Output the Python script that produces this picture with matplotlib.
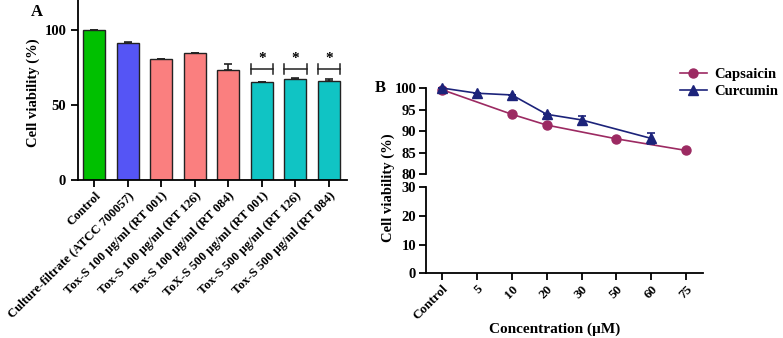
import matplotlib.pyplot as plt
import numpy as np

plt.rcParams['font.family'] = ['Liberation Serif', 'DejaVu Serif']
plt.rcParams['font.weight'] = 'bold'

### panel A data ###
groups_a = ['Control', 'Culture-filtrate (ATCC 700057)',
            'Tox-S 100 µg/ml (RT 001)', 'Tox-S 100 µg/ml (RT 126)',
            'Tox-S 100 µg/ml (RT 084)', 'ToX-S 500 µg/ml (RT 001)',
            'Tox-S 500 µg/ml (RT 126)', 'Tox-S 500 µg/ml (RT 084)']
viability_a = [100.0, 91.1, 80.4, 84.4, 73.5, 65.2, 67.4, 65.9]
err_a = [0.0, 0.6, 0.3, 0.5, 4.0, 0.4, 0.6, 1.3]
colors_a = ['#00c000', '#5555f5', '#fa7f7f', '#fa7f7f', '#fa7f7f',
            '#10c4c4', '#10c4c4', '#10c4c4']
sig_bars = [5, 6, 7]
sig_level = 73.7

### panel B data ###
conc_labels = ['Control', '5', '10', '20', '30', '50', '60', '75']
caps_idx = [0, 2, 3, 5, 7]
caps_vals = [99.6, 93.9, 91.4, 88.2, 85.5]
curc_idx = [0, 1, 2, 3, 4, 6]
curc_vals = [100.0, 98.8, 98.4, 93.9, 92.6, 88.3]
curc_err = [0.0, 0.0, 0.0, 0.0, 1.0, 1.2]

cap_col = '#9c2a62'
cur_col = '#1c237a'

fig = plt.figure(figsize=(7.83, 3.38), dpi=100)

# ---- A ----
axA = fig.add_axes([0.0996, 0.4675, 0.3436, 0.5325])
x = np.arange(len(groups_a))
axA.bar(x, viability_a, width=0.66, color=colors_a, edgecolor='#222222', linewidth=1.0, zorder=2)
axA.errorbar(x, viability_a, yerr=[np.zeros(len(err_a)), err_a], fmt='none',
             ecolor='#222222', elinewidth=1.2, capsize=3, capthick=1.2, zorder=3)
for i in sig_bars:
    axA.plot([i - 0.34, i + 0.34], [sig_level, sig_level], color='#222222', lw=1.1)
    axA.plot([i - 0.34, i - 0.34], [sig_level - 3.3, sig_level + 3.3], color='#222222', lw=1.1)
    axA.plot([i + 0.34, i + 0.34], [sig_level - 3.3, sig_level + 3.3], color='#222222', lw=1.1)
    axA.text(i, sig_level + 3.0, '*', ha='center', va='bottom', fontsize=11, fontweight='bold')
axA.set_xlim(-0.49, 7.54)
axA.set_ylim(0, 120)
axA.set_yticks([0, 50, 100])
axA.set_xticks(x)
axA.set_xticklabels(groups_a, rotation=45, ha='right', rotation_mode='anchor')
axA.spines['top'].set_visible(False)
axA.spines['right'].set_visible(False)
for s in ['left', 'bottom']:
    axA.spines[s].set_linewidth(1.3)
axA.tick_params(width=1.3, length=5, labelsize=10.5)
axA.tick_params(axis='x', pad=2, labelsize=9.2)
fig.text(0.042, 0.726, 'Cell viability (%)', rotation=90, ha='center', va='center', fontsize=10.5)
fig.text(0.047, 0.965, 'A', ha='center', va='center', fontsize=12)

# ---- B ----
axT = fig.add_axes([0.544, 0.485, 0.3538, 0.2544])
axB = fig.add_axes([0.544, 0.1914, 0.3538, 0.2544])
axT.plot(caps_idx, caps_vals, color=cap_col, lw=1.2, marker='o', ms=6.5,
         mfc=cap_col, mec=cap_col, label='Capsaicin', clip_on=False, zorder=3)
axT.plot(curc_idx, curc_vals, color=cur_col, lw=1.2, marker='^', ms=6.5,
         mfc=cur_col, mec=cur_col, label='Curcumin', clip_on=False, zorder=4)
axT.errorbar(curc_idx, curc_vals, yerr=curc_err, fmt='none', ecolor=cur_col,
             capsize=3, capthick=1.2, elinewidth=1.2, clip_on=False, zorder=4)
for a in (axT, axB):
    a.set_xlim(-0.47, 7.49)
    a.spines['top'].set_visible(False)
    a.spines['right'].set_visible(False)
    for s in ['left', 'bottom']:
        a.spines[s].set_linewidth(1.3)
    a.tick_params(width=1.3, length=5, labelsize=10.5, pad=2)
axT.set_ylim(80, 100)
axT.set_yticks([80, 85, 90, 95, 100])
axT.spines['bottom'].set_visible(False)
axT.tick_params(axis='x', bottom=False, labelbottom=False)
axB.set_ylim(0, 30)
axB.set_yticks([0, 10, 20, 30])
axB.set_xticks(np.arange(len(conc_labels)))
axB.set_xticklabels(conc_labels, rotation=45, ha='right', rotation_mode='anchor', fontsize=9.5)
fig.text(0.708, 0.025, 'Concentration (µM)', ha='center', va='center', fontsize=11)
fig.text(0.496, 0.444, 'Cell viability (%)', rotation=90, ha='center', va='center', fontsize=10.5)
fig.text(0.486, 0.74, 'B', ha='center', va='center', fontsize=12)

h, l = axT.get_legend_handles_labels()
fig.legend(h, l, loc='upper left', bbox_to_anchor=(0.868, 0.80), frameon=False,
           fontsize=10.5, handlelength=1.9, handletextpad=0.5, borderpad=0,
           labelspacing=0.3, borderaxespad=0)

fig.savefig('out.png', dpi=100)
